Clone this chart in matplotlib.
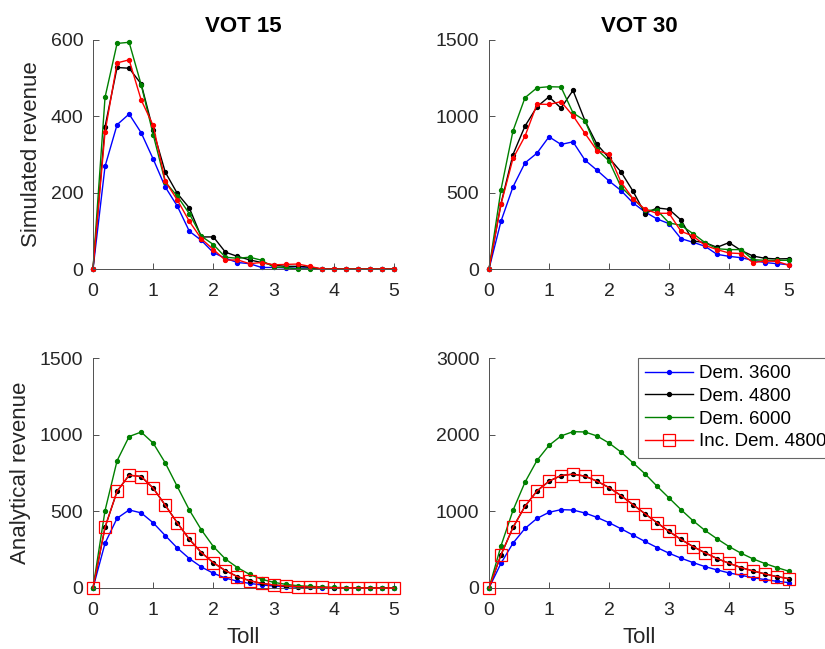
import numpy as np
import matplotlib
matplotlib.use("Agg")
import matplotlib.pyplot as plt

plt.rcParams['font.family'] = ['Liberation Sans', 'DejaVu Sans']

toll = [round(0.2 * i, 1) for i in range(26)]

# VOT 15 simulated revenue
sim15_3600 = [0, 269, 378, 406, 357, 288, 215, 165, 99, 75, 43, 28, 17, 14, 4, 4, 3, 2, 3, 0, 0, 0, 0, 0, 0, 0]
sim15_4800 = [0, 373, 528, 526, 485, 363, 254, 198, 160, 84, 84, 44, 33, 24, 17, 10, 7, 7, 5, 0, 0, 0, 0, 0, 0, 0]
sim15_6000 = [0, 450, 591, 594, 483, 352, 228, 191, 145, 86, 64, 31, 28, 31, 23, 5, 4, 0, 0, 0, 0, 0, 0, 0, 0, 0]
sim15_inc = [0, 359, 540, 548, 443, 376, 230, 181, 125, 79, 51, 23, 24, 14, 17, 11, 12, 13, 7, 0, 0, 0, 0, 0, 0, 0]

# VOT 30 simulated revenue
sim30_3600 = [0, 313, 538, 695, 759, 866, 816, 833, 713, 647, 577, 514, 433, 374, 328, 297, 199, 175, 149, 96, 83, 74, 57, 42, 35, 28]
sim30_4800 = [0, 429, 750, 936, 1063, 1128, 1054, 1170, 971, 816, 728, 636, 510, 363, 400, 391, 321, 184, 173, 142, 173, 122, 85, 70, 66, 68]
sim30_6000 = [0, 520, 905, 1122, 1187, 1194, 1192, 1023, 971, 783, 708, 538, 461, 385, 385, 302, 286, 232, 173, 133, 127, 127, 61, 57, 57, 57]
sim30_inc = [0, 424, 724, 870, 1080, 1078, 1096, 1004, 888, 776, 752, 569, 461, 391, 365, 365, 247, 216, 155, 127, 105, 101, 42, 52, 50, 24]

# VOT 15 analytical revenue
ana15_3600 = [0, 292, 455, 509, 490, 425, 342, 261, 192, 137, 96, 65, 44, 30, 20, 13, 9, 6, 4, 2, 1, 1, 0, 0, 0, 0]
ana15_4800 = [0, 396, 631, 736, 727, 651, 540, 425, 318, 231, 165, 113, 74, 48, 30, 20, 13, 9, 6, 4, 2, 1, 1, 0, 0, 0]
ana15_6000 = [0, 505, 830, 988, 1017, 945, 816, 662, 509, 379, 270, 189, 133, 89, 57, 37, 24, 15, 11, 7, 4, 2, 2, 1, 0, 0]
ana15_inc = ana15_4800

# VOT 30 analytical revenue
ana30_3600 = [0, 323, 585, 777, 908, 987, 1022, 1017, 978, 921, 852, 773, 690, 607, 528, 454, 389, 332, 279, 236, 197, 166, 135, 109, 87, 70]
ana30_4800 = [0, 432, 790, 1066, 1266, 1393, 1467, 1485, 1459, 1393, 1310, 1205, 1087, 969, 852, 738, 633, 541, 459, 384, 323, 266, 223, 183, 148, 122]
ana30_6000 = [0, 550, 1013, 1380, 1664, 1860, 1983, 2039, 2035, 1983, 1891, 1773, 1633, 1489, 1328, 1175, 1022, 878, 751, 642, 541, 454, 380, 319, 266, 218]
ana30_inc = ana30_4800

titles = ["VOT 15", "VOT 30"]
labels = ["Dem. 3600", "Dem. 4800", "Dem. 6000", "Inc. Dem. 4800"]
colors = ["#0000ff", "#000000", "#008000", "#ff0000"]

W, H = 825, 649
fig = plt.figure(figsize=(W / 100, H / 100), dpi=100)

def ax_at(x0, y0, x1, y1):
    return fig.add_axes([x0 / W, 1 - y1 / H, (x1 - x0) / W, (y1 - y0) / H])

axes = [
    ax_at(93, 40, 394, 269),
    ax_at(489, 40, 789, 269),
    ax_at(93, 358, 394, 588),
    ax_at(489, 358, 789, 588),
]

data = [
    [sim15_3600, sim15_4800, sim15_6000, sim15_inc],
    [sim30_3600, sim30_4800, sim30_6000, sim30_inc],
    [ana15_3600, ana15_4800, ana15_6000, ana15_inc],
    [ana30_3600, ana30_4800, ana30_6000, ana30_inc],
]
ylims = [(0, 600), (0, 1500), (0, 1500), (0, 3000)]
yticks = [[0, 200, 400, 600], [0, 500, 1000, 1500], [0, 500, 1000, 1500], [0, 1000, 2000, 3000]]

spine_c = "#505050"
txt_c = "#262626"
for i, ax in enumerate(axes):
    series = data[i]
    handles = []
    for j in range(4):
        if i >= 2 and j == 3:
            h, = ax.plot(toll, series[j], color=colors[j], lw=1.0, marker='s',
                         markersize=9, markerfacecolor='none', markeredgewidth=0.9,
                         label=labels[j], clip_on=False, zorder=3)
        else:
            h, = ax.plot(toll, series[j], color=colors[j], lw=1.0, marker='o',
                         markersize=2.8, label=labels[j], clip_on=False, zorder=2 + j * 0.1)
        handles.append(h)
    ax.set_xlim(0, 5)
    ax.set_ylim(*ylims[i])
    ax.set_xticks([0, 1, 2, 3, 4, 5])
    ax.set_yticks(yticks[i])
    for s in ['top', 'right']:
        ax.spines[s].set_visible(False)
    for s in ['left', 'bottom']:
        ax.spines[s].set_color(spine_c)
        ax.spines[s].set_linewidth(0.7)
    ax.tick_params(direction='in', length=4, width=0.7, color=spine_c,
                   labelsize=14, labelcolor=txt_c)
    ax.tick_params(axis='x', pad=10)
    ax.tick_params(axis='y', pad=7)
    if i < 2:
        ax.set_title(titles[i], fontsize=16, fontweight='bold', color='#000000', pad=6)
    if i >= 2:
        ax.set_xlabel("Toll", fontsize=16, color=txt_c, labelpad=6)
    if i == 0:
        ax.set_ylabel("Simulated revenue", fontsize=16, color=txt_c, labelpad=6)
    if i == 2:
        ax.set_ylabel("Analytical revenue", fontsize=16, color=txt_c, labelpad=6)
    if i == 3:
        leg = ax.legend(handles=handles, loc='upper left', bbox_to_anchor=(0.497, 1.0),
                        fontsize=13.5, frameon=True, fancybox=False, borderpad=0.38,
                        labelspacing=0.3, handlelength=2.55, handletextpad=0.32,
                        borderaxespad=0.0)
        leg.get_frame().set_edgecolor('#404040')
        leg.get_frame().set_linewidth(0.8)
        for t in leg.get_texts():
            t.set_color('#000000')

fig.savefig("out.png", dpi=100)
